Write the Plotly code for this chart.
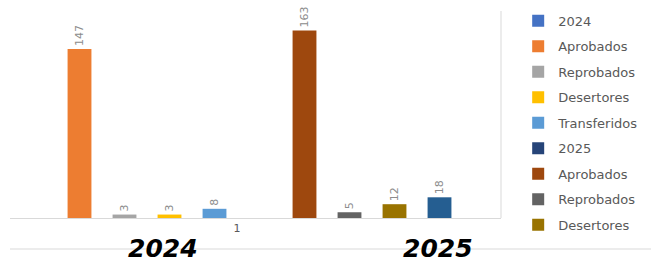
import plotly.graph_objects as go

category = ["1"]
series_names = ["2024", "Aprobados", "Reprobados", "Desertores", "Transferidos",
                "2025", "Aprobados", "Reprobados", "Desertores", "Transferidos"]
series_values = [None, 147, 3, 3, 8, None, 163, 5, 12, 18]
series_colors = ["#4472C4", "#ED7D31", "#A5A5A5", "#FFC000", "#5B9BD5",
                 "#264478", "#9E480E", "#636363", "#997300", "#255E91"]
show_in_legend = [True] * 9 + [False]
year_labels = ["2024", "2025"]

fig = go.Figure()
for i, (name, val, col, sl) in enumerate(zip(series_names, series_values, series_colors, show_in_legend)):
    fig.add_trace(go.Bar(
        x=category, y=[val], name=name, marker_color=col,
        marker_line_width=0,
        text=[val if val is not None else ""], textposition="outside",
        textangle=-90, cliponaxis=False,
        textfont=dict(family="DejaVu Sans", size=11, color="#8c8c8c"),
        showlegend=sl, legendgroup=f"g{i}",
    ))

W, H = 651, 264
L, R, T, B = 10, 150, 11, 46
PW, PH = W - L - R, H - T - B
fig.update_layout(
    width=W, height=H,
    margin=dict(l=L, r=R, t=T, b=B, autoexpand=False),
    paper_bgcolor="white", plot_bgcolor="white",
    barmode="group", bargap=0.1, bargroupgap=0.47,
    font=dict(family="DejaVu Sans", color="#595959"),
    xaxis=dict(range=[-0.454, 0.528], showgrid=False, showline=True,
               linecolor="#d9d9d9", linewidth=1, ticks="", automargin=False,
               tickfont=dict(size=11, color="#595959"), fixedrange=True),
    yaxis=dict(range=[0, 180], visible=False, fixedrange=True),
    legend=dict(x=1.035, xanchor="left", y=1.025, yanchor="top",
                font=dict(size=13, color="#595959"), maxheight=260,
                tracegroupgap=5.6, itemclick=False),
    showlegend=True,
)

# chart right border and lower separator
fig.add_shape(type="line", xref="paper", yref="paper", x0=1.0, x1=1.0, y0=0, y1=1.0,
              line=dict(color="#d9d9d9", width=1))
fig.add_shape(type="line", xref="paper", yref="paper", x0=0, x1=(W - L) / PW,
              y0=-31 / PH, y1=-31 / PH,
              line=dict(color="#d9d9d9", width=1))

for lbl, xp in zip(year_labels, [(163 - L) / PW, (438 - L) / PW]):
    fig.add_annotation(text=lbl, xref="paper", yref="paper", x=xp, y=-30 / PH,
                       showarrow=False, xanchor="center", yanchor="middle",
                       font=dict(family="DejaVu Sans", size=25, color="black",
                                 style="italic", weight="bold"))

fig.write_html("out.html", config={"displayModeBar": False},
               post_script="document.body.style.margin='0';")
